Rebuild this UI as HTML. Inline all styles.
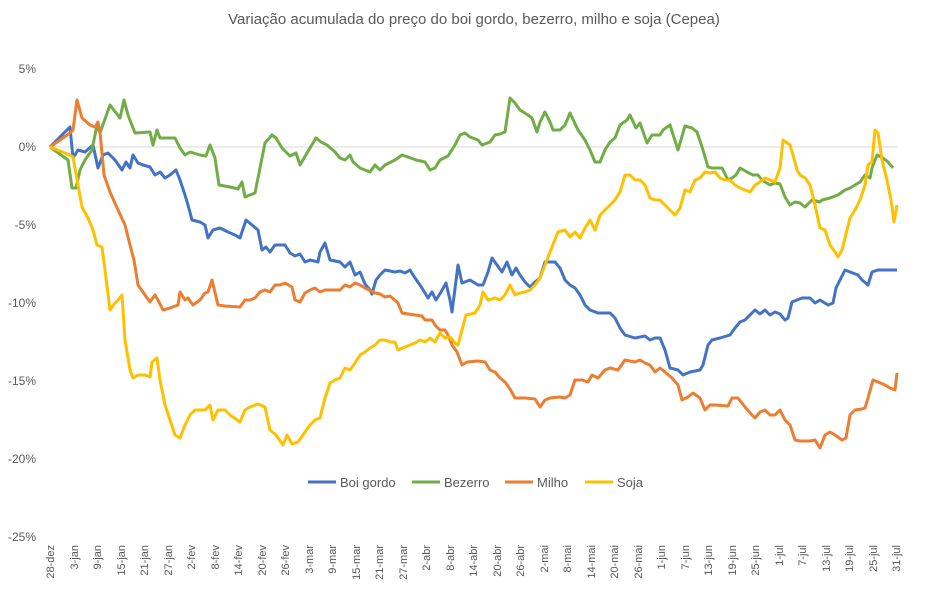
<!DOCTYPE html><html><head><meta charset="utf-8"><style>body{margin:0;background:#fff}svg{font-family:"Liberation Sans",sans-serif}</style></head><body>
<svg width="948" height="589" xmlns="http://www.w3.org/2000/svg">
<text x="474" y="24" text-anchor="middle" font-size="15" fill="#595959">Variação acumulada do preço do boi gordo, bezerro, milho e soja (Cepea)</text>
<g font-size="12" fill="#595959" text-anchor="end">
<text x="36" y="73">5%</text><text x="36" y="151">0%</text><text x="36" y="229">-5%</text><text x="36" y="307">-10%</text><text x="36" y="385">-15%</text><text x="36" y="463">-20%</text><text x="36" y="541">-25%</text></g>
<line x1="50" y1="147" x2="897" y2="147" stroke="#d9d9d9"/>
<g font-size="11" fill="#595959" text-anchor="end" id="xl"></g>
<g fill="none" stroke-width="3" stroke-linejoin="round">
<polyline stroke="#4472c4" points="50,147 70,127 73,158 78,150 85,152 93,145 98,168 103,155 108,153 115,160 122,170 126,162 130,168 133,155 138,163 143,165 150,167 155,175 160,172 165,178 170,175 176,170 180,180 185,195 188,205 192,220 200,222 205,225 208,238 213,230 220,228 228,232 235,235 240,238 246,220 252,225 258,230 262,250 266,247 270,252 275,245 285,245 290,253 295,256 300,254 305,262 310,260 318,262 320,252 325,243 330,260 340,262 345,267 350,262 355,275 360,272 365,284 370,290 372,294 376,280 380,275 385,270 395,272 400,271 405,273 410,270 415,278 420,285 425,293 428,298 432,292 436,300 441,292 446,283 450,300 452,312 458,265 462,283 470,280 478,285 483,285 488,272 492,258 497,265 502,272 507,262 512,275 516,268 520,275 525,282 530,287 535,282 540,278 545,262 555,262 560,268 565,280 570,285 575,288 580,295 585,305 590,310 598,313 610,313 615,318 620,328 625,335 635,338 645,336 650,340 655,338 660,338 665,350 670,368 678,370 683,375 690,372 700,370 703,365 708,345 712,340 720,338 730,335 735,328 740,322 745,320 750,315 755,310 760,314 765,310 770,315 775,312 780,314 785,320 788,318 792,302 797,300 802,298 810,298 815,303 820,300 828,305 833,303 836,288 840,280 845,270 850,272 858,275 862,280 868,285 872,272 878,270 888,270 897,270"/>
<polyline stroke="#70ad47" points="50,147 68,160 72,188 76,188 80,170 85,160 92,150 97,125 100,133 110,105 120,118 124,100 128,115 135,133 150,132 153,145 157,130 160,138 175,138 180,148 185,155 190,152 200,155 206,156 210,145 215,158 219,185 230,187 238,189 242,182 245,197 255,193 262,158 265,143 272,135 276,138 282,148 290,156 296,153 300,165 307,153 316,138 321,142 327,145 335,152 340,158 345,160 350,155 353,162 360,168 370,172 375,165 380,170 385,165 395,160 402,155 408,157 416,160 425,162 430,170 435,168 440,160 448,156 455,145 460,135 465,133 470,137 478,140 482,145 490,142 495,135 500,134 505,132 510,98 515,103 520,110 528,115 532,118 537,132 540,122 545,112 550,122 553,130 560,130 565,125 570,113 578,130 585,140 590,150 595,162 600,162 605,150 610,142 615,138 620,125 627,120 630,115 636,128 640,123 647,143 652,135 660,135 663,130 670,125 678,150 685,126 692,128 697,132 703,150 708,167 712,168 722,168 728,180 732,178 736,175 740,168 747,172 753,175 758,175 762,180 765,182 770,185 775,183 780,184 785,197 790,205 795,202 800,203 805,207 812,200 820,202 822,200 830,198 838,195 845,190 850,188 855,185 860,182 865,175 870,178 872,168 877,155 883,158 888,162 893,168"/>
<polyline stroke="#ed7d31" points="50,147 70,133 73,130 77,100 82,118 90,125 95,127 98,122 100,132 104,175 110,192 118,210 125,225 130,245 134,260 138,285 145,295 150,302 155,295 158,300 163,310 170,308 178,305 180,292 185,300 188,298 193,305 200,300 205,293 208,292 212,280 218,305 225,306 240,307 245,300 250,300 255,298 260,292 265,290 270,292 275,285 280,285 285,283 292,287 295,300 300,302 305,293 310,290 315,288 320,292 325,290 330,290 340,290 345,285 350,287 355,283 360,285 365,288 375,293 380,294 385,297 390,296 398,303 402,313 415,315 422,316 425,320 432,320 435,325 440,330 445,330 448,335 452,345 457,352 462,365 467,362 478,361 485,362 490,370 495,372 500,378 505,382 510,389 515,398 525,398 535,399 540,407 545,400 550,398 560,397 565,398 570,395 575,380 582,380 588,382 592,375 598,378 605,370 610,368 618,370 625,360 635,362 640,360 645,363 650,365 655,372 660,368 665,372 672,378 678,385 682,400 688,397 693,393 700,398 705,410 710,405 715,405 728,406 732,398 738,398 745,407 752,415 755,418 760,412 765,410 770,415 775,415 780,410 785,420 790,425 795,440 800,441 810,441 815,440 820,448 825,435 830,432 835,435 842,440 846,438 850,415 855,410 862,409 865,408 868,398 873,380 878,382 885,385 890,388 895,390 897,373"/>
<polyline stroke="#ffc000" points="50,147 70,155 73,157 78,185 82,207 88,218 93,230 97,245 102,247 105,270 110,310 115,303 118,300 122,295 125,340 130,370 133,378 138,375 145,375 150,377 152,362 157,358 160,380 165,405 170,420 175,435 180,438 185,425 190,415 195,410 205,410 210,405 213,420 218,410 225,410 230,415 240,422 245,410 250,407 258,404 265,407 270,430 276,435 283,445 287,435 292,444 298,442 305,432 310,425 315,420 320,418 325,398 330,383 335,380 340,378 345,368 350,370 355,363 360,355 365,352 370,348 375,345 380,340 385,340 390,342 395,342 398,350 405,347 410,345 415,343 420,340 425,342 430,338 435,342 440,333 445,338 450,337 455,343 458,345 462,330 466,315 475,313 480,305 483,292 488,300 495,298 500,300 505,295 510,285 515,295 520,293 525,292 530,290 535,285 540,278 545,265 550,252 558,232 565,230 570,237 575,232 580,238 585,228 590,220 595,230 600,215 605,210 610,205 615,200 620,192 625,175 630,175 635,180 640,180 645,185 650,198 655,200 660,200 665,205 670,210 675,215 680,208 685,190 690,192 695,180 700,178 705,172 710,173 715,172 720,178 725,180 730,180 735,185 740,188 745,190 750,192 755,185 760,182 765,178 770,180 775,182 780,168 783,140 790,145 793,155 797,170 800,175 805,178 810,185 815,205 820,228 825,230 830,245 835,252 838,257 842,250 847,230 850,218 855,210 860,200 865,185 868,165 872,162 875,130 878,133 882,160 887,180 891,200 894,222 897,205"/>
</g>
<g font-size="13" fill="#595959">
<line x1="308" y1="482" x2="336" y2="482" stroke="#4472c4" stroke-width="3"/><text x="340" y="487">Boi gordo</text>
<line x1="412" y1="482" x2="440" y2="482" stroke="#70ad47" stroke-width="3"/><text x="444" y="487">Bezerro</text>
<line x1="505" y1="482" x2="533" y2="482" stroke="#ed7d31" stroke-width="3"/><text x="537" y="487">Milho</text>
<line x1="585" y1="482" x2="613" y2="482" stroke="#ffc000" stroke-width="3"/><text x="617" y="487">Soja</text>
</g>
<g font-size="11" fill="#595959" text-anchor="end">
<text transform="translate(54,545) rotate(-90)">28-dez</text><text transform="translate(78,545) rotate(-90)">3-jan</text><text transform="translate(101,545) rotate(-90)">9-jan</text><text transform="translate(125,545) rotate(-90)">15-jan</text><text transform="translate(148,545) rotate(-90)">21-jan</text><text transform="translate(172,545) rotate(-90)">27-jan</text><text transform="translate(195,545) rotate(-90)">2-fev</text><text transform="translate(219,545) rotate(-90)">8-fev</text><text transform="translate(242,545) rotate(-90)">14-fev</text><text transform="translate(266,545) rotate(-90)">20-fev</text><text transform="translate(289,545) rotate(-90)">26-fev</text><text transform="translate(313,545) rotate(-90)">3-mar</text><text transform="translate(336,545) rotate(-90)">9-mar</text><text transform="translate(360,545) rotate(-90)">15-mar</text><text transform="translate(383,545) rotate(-90)">21-mar</text><text transform="translate(407,545) rotate(-90)">27-mar</text><text transform="translate(430,545) rotate(-90)">2-abr</text><text transform="translate(454,545) rotate(-90)">8-abr</text><text transform="translate(477,545) rotate(-90)">14-abr</text><text transform="translate(501,545) rotate(-90)">20-abr</text><text transform="translate(524,545) rotate(-90)">26-abr</text><text transform="translate(548,545) rotate(-90)">2-mai</text><text transform="translate(571,545) rotate(-90)">8-mai</text><text transform="translate(595,545) rotate(-90)">14-mai</text><text transform="translate(618,545) rotate(-90)">20-mai</text><text transform="translate(642,545) rotate(-90)">26-mai</text><text transform="translate(665,545) rotate(-90)">1-jun</text><text transform="translate(689,545) rotate(-90)">7-jun</text><text transform="translate(712,545) rotate(-90)">13-jun</text><text transform="translate(736,545) rotate(-90)">19-jun</text><text transform="translate(759,545) rotate(-90)">25-jun</text><text transform="translate(783,545) rotate(-90)">1-jul</text><text transform="translate(806,545) rotate(-90)">7-jul</text><text transform="translate(830,545) rotate(-90)">13-jul</text><text transform="translate(853,545) rotate(-90)">19-jul</text><text transform="translate(877,545) rotate(-90)">25-jul</text><text transform="translate(900,545) rotate(-90)">31-jul</text>
</g>
</svg></body></html>
